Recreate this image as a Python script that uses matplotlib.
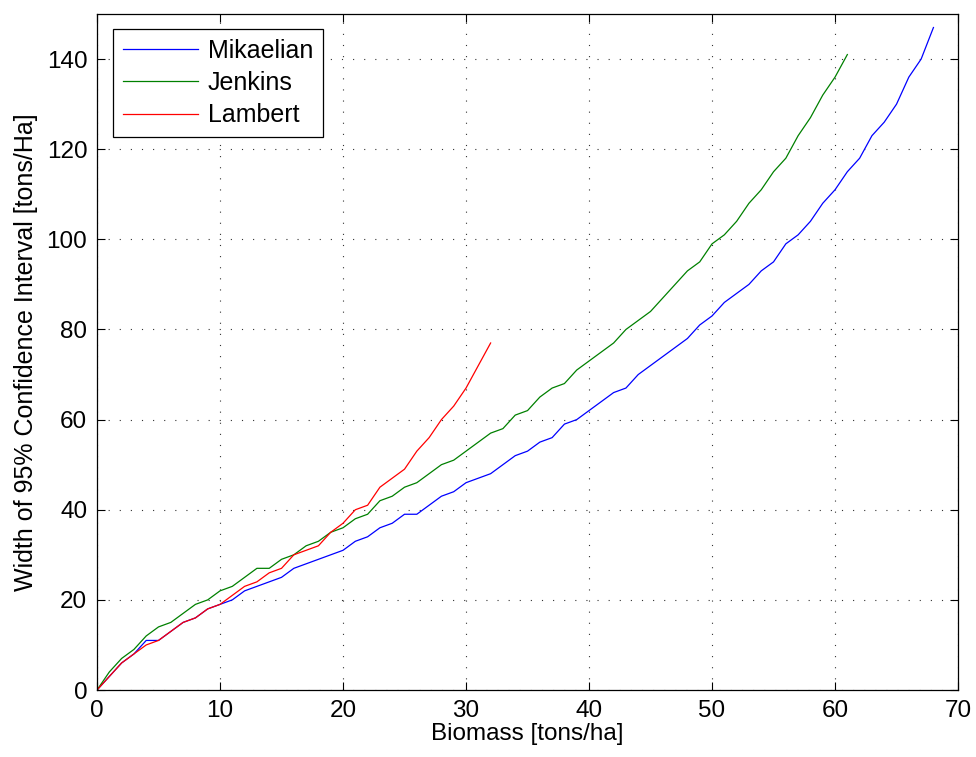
#!/usr/bin/env python3
"""Confidence-interval width versus biomass for three allometric models."""

import matplotlib

matplotlib.use("Agg")
import matplotlib.pyplot as plt

plt.rcParams["font.family"] = ["Liberation Sans", "DejaVu Sans"]

# Biomass in tons/ha (integer steps) and CI width for each model
mikaelian_x = list(range(0, 69))
mikaelian_y = [
    0, 3, 6, 8, 11, 11, 13, 15, 16, 18,
    19, 20, 22, 23, 24, 25, 27, 28, 29, 30,
    31, 33, 34, 36, 37, 39, 39, 41, 43, 44,
    46, 47, 48, 50, 52, 53, 55, 56, 59, 60,
    62, 64, 66, 67, 70, 72, 74, 76, 78, 81,
    83, 86, 88, 90, 93, 95, 99, 101, 104, 108,
    111, 115, 118, 123, 126, 130, 136, 140, 147,
]

jenkins_x = list(range(0, 62))
jenkins_y = [
    0, 4, 7, 9, 12, 14, 15, 17, 19, 20,
    22, 23, 25, 27, 27, 29, 30, 32, 33, 35,
    36, 38, 39, 42, 43, 45, 46, 48, 50, 51,
    53, 55, 57, 58, 61, 62, 65, 67, 68, 71,
    73, 75, 77, 80, 82, 84, 87, 90, 93, 95,
    99, 101, 104, 108, 111, 115, 118, 123, 127, 132,
    136, 141,
]

lambert_x = list(range(0, 33))
lambert_y = [
    0, 3, 6, 8, 10, 11, 13, 15, 16, 18,
    19, 21, 23, 24, 26, 27, 30, 31, 32, 35,
    37, 40, 41, 45, 47, 49, 53, 56, 60, 63,
    67, 72, 77,
]

SERIES = [
    ("Mikaelian", mikaelian_x, mikaelian_y, (0, 0, 1)),
    ("Jenkins", jenkins_x, jenkins_y, (0, 0.5, 0)),
    ("Lambert", lambert_x, lambert_y, (1, 0, 0)),
]

FONT_SIZE = 17.5


def main() -> int:
    fig = plt.figure(figsize=(9.76, 7.57), dpi=100)
    ax = fig.add_axes([0.0994, 0.0885, 0.8822, 0.893])

    for label, xs, ys, color in SERIES:
        ax.plot(xs, ys, color=color, linewidth=0.9, label=label)

    ax.set_xlim(0, 70)
    ax.set_ylim(0, 150)
    ax.set_xticks(range(0, 71, 10))
    ax.set_yticks(range(0, 141, 20))

    ax.grid(True, color="#333333", linestyle=(0, (1, 9)), linewidth=0.8)
    ax.tick_params(
        direction="in", length=6, width=0.8, labelsize=FONT_SIZE,
        top=True, right=True, pad=7,
    )
    for spine in ax.spines.values():
        spine.set_linewidth(0.9)

    ax.set_xlabel("Biomass [tons/ha]", fontsize=FONT_SIZE, labelpad=1)
    ax.set_ylabel(
        "Width of 95% Confidence Interval [tons/Ha]",
        fontsize=18, labelpad=6,
    )

    legend = ax.legend(
        loc="upper left",
        bbox_to_anchor=(0.0186, 0.978),
        fontsize=18,
        fancybox=False,
        framealpha=1,
        edgecolor="black",
        handlelength=3.0,
        handletextpad=0.4,
        borderpad=0.4,
        labelspacing=0.33,
        borderaxespad=0,
    )
    legend.get_frame().set_linewidth(0.9)

    fig.savefig("out.png", dpi=100, facecolor="white")
    plt.close(fig)
    return 0


if __name__ == "__main__":
    raise SystemExit(main())
